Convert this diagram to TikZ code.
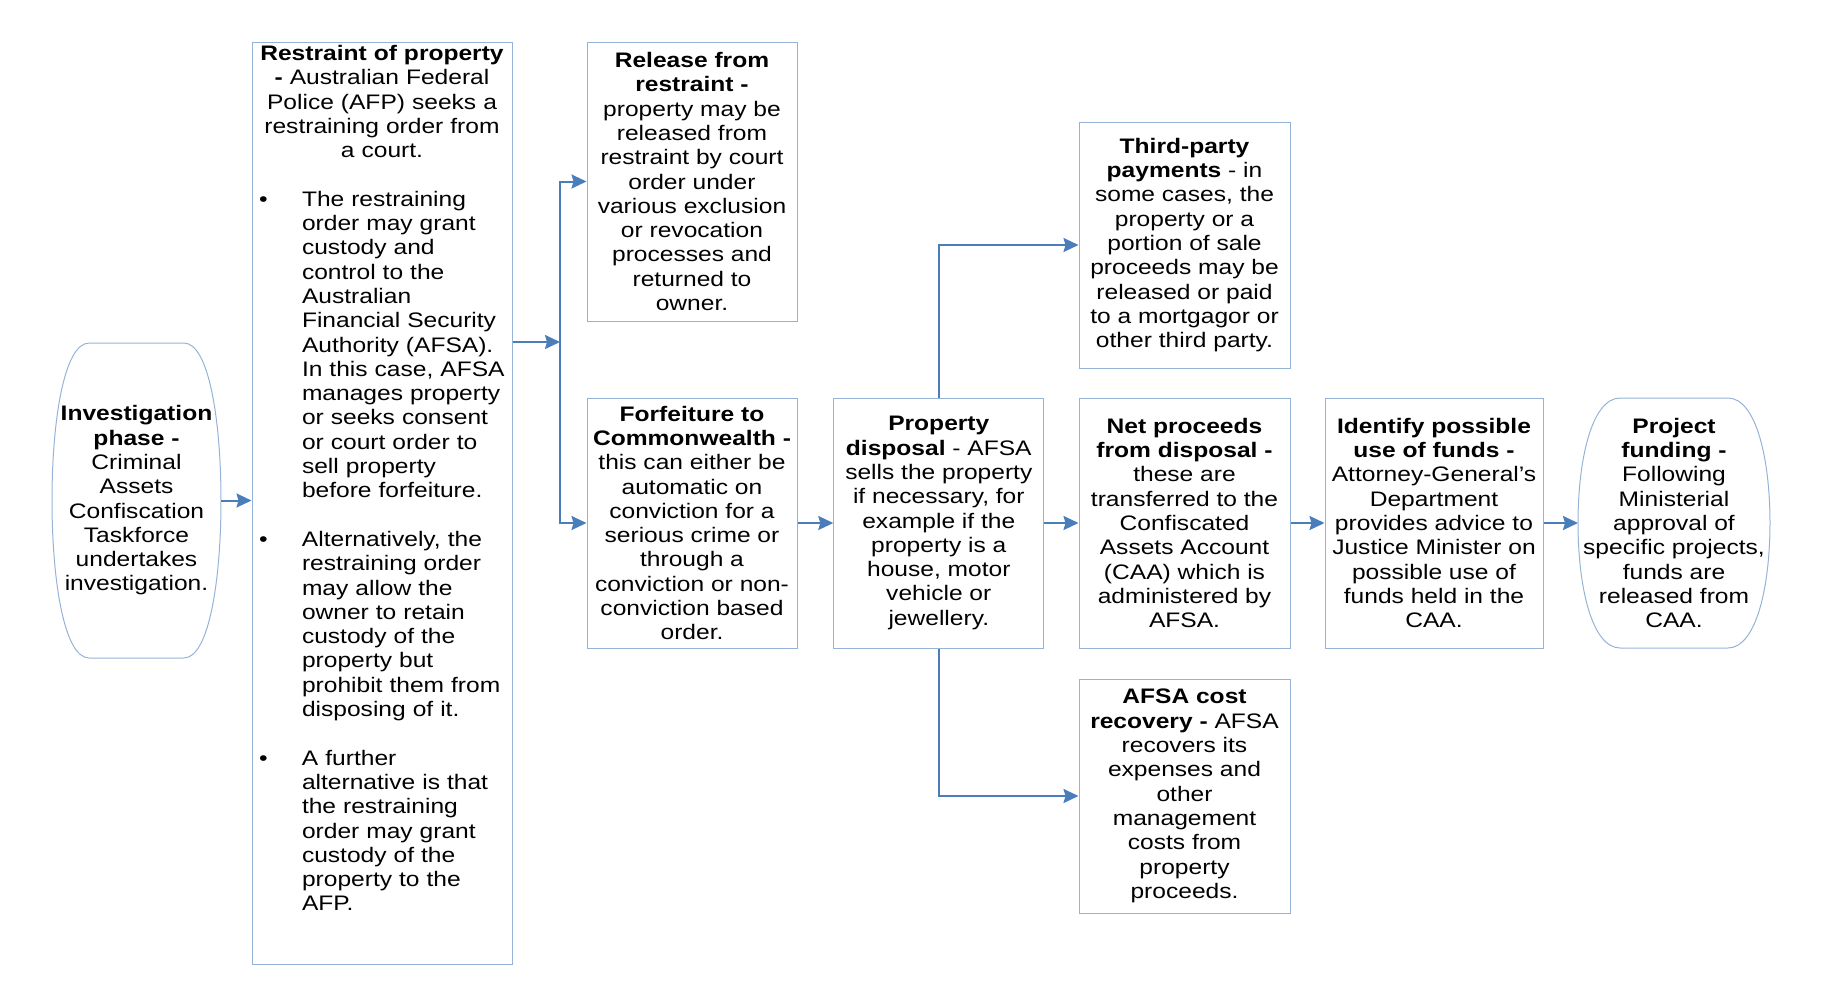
\documentclass[tikz,border=0pt]{standalone}
\usepackage{fontspec}
\setmainfont{Liberation Sans}[FakeStretch=1.17]
\usetikzlibrary{arrows.meta,calc,positioning}

\definecolor{boxblue}{RGB}{149,179,215}
\definecolor{arrowblue}{RGB}{74,126,187}

\newcommand{\bodysize}{\fontsize{10.5}{12.15}\selectfont}
\newcommand{\restrbullet}[1]{\noindent\hspace*{3.5pt}\makebox[21.5pt][l]{\textbullet}\parbox[t]{104pt}{\strut#1\strut}\par}
\newcommand{\termpath}[1]{%
  \draw[boxline] ($(#1.north west)!.22!(#1.north east)$) -- ($(#1.north west)!.78!(#1.north east)$)
    .. controls ($(#1.north west)!.93!(#1.north east)$) and ($(#1.north east)!.5!(#1.east)$) .. (#1.east)
    .. controls ($(#1.south east)!.5!(#1.east)$) and ($(#1.south west)!.93!(#1.south east)$) .. ($(#1.south west)!.78!(#1.south east)$)
    -- ($(#1.south west)!.22!(#1.south east)$)
    .. controls ($(#1.south west)!.07!(#1.south east)$) and ($(#1.south west)!.5!(#1.west)$) .. (#1.west)
    .. controls ($(#1.north west)!.5!(#1.west)$) and ($(#1.north west)!.07!(#1.north east)$) .. cycle;}

\tikzset{every picture/.style={line width=0.75pt}}
\tikzset{
  boxline/.style={draw=boxblue, line width=0.5pt},
  stagebox/.style={boxline, inner sep=0pt, align=center, font=\bodysize, minimum width=105pt, minimum height=125pt},
  termnode/.style={inner sep=0pt, outer sep=0pt, align=center, font=\bodysize},
  flowline/.style={draw=arrowblue, line width=1pt},
  flowarrow/.style={flowline, -{Stealth[length=7.5pt,width=7pt,inset=1pt]}},
}

\begin{document}
\begin{tikzpicture}[x=1pt,y=1pt,yscale=-1,xscale=1]
\useasboundingbox (0,0) rectangle (910.5,503.5);

%Shape: Terminator [id:inv]
\node[termnode, minimum width=84.5pt, minimum height=157.5pt] (inv) at (68.25,250.25)
  {\textbf{Investigation}\\\textbf{phase -}\\Criminal\\Assets\\Confiscation\\Taskforce\\undertakes\\investigation.};
\termpath{inv}

%Shape: Rectangle [id:restr]
\node[stagebox, minimum width=130pt, minimum height=461pt] (restr) at (191,251.5) {};
% Text Node
\node[anchor=north, text width=130pt, inner xsep=0pt, inner ysep=1.5pt, font=\bodysize, align=left] (restrtext) at (restr.north)
  {\setlength{\lineskip}{0pt}%
   {\centering\textbf{Restraint of property}\\\textbf{-} Australian Federal\\Police (AFP) seeks a\\restraining order from\\a court.\par}
   \vspace{\baselineskip}
   \restrbullet{The restraining\\order may grant\\custody and\\control to the\\Australian\\Financial Security\\Authority (AFSA).\\In this case, AFSA\\manages property\\or seeks consent\\or court order to\\sell property\\before forfeiture.}
   \vspace{\baselineskip}
   \restrbullet{Alternatively, the\\restraining order\\may allow the\\owner to retain\\custody of the\\property but\\prohibit them from\\disposing of it.}
   \vspace{\baselineskip}
   \restrbullet{A further\\alternative is that\\the restraining\\order may grant\\custody of the\\property to the\\AFP.}};

%Shape: Rectangle [id:release]
\node[stagebox, minimum height=139.5pt] (release) at (346,90.75)
  {\textbf{Release from}\\\textbf{restraint -}\\property may be\\released from\\restraint by court\\order under\\various exclusion\\or revocation\\processes and\\returned to\\owner.};
%Shape: Rectangle [id:forf]
\node[stagebox] (forf) at (346,261.5)
  {\textbf{Forfeiture to}\\\textbf{Commonwealth -}\\this can either be\\automatic on\\conviction for a\\serious crime or\\through a\\conviction or non-\\conviction based\\order.};
%Shape: Rectangle [id:disposal]
\node[stagebox] (disposal) at (469.4,261.5)
  {\textbf{Property}\\\textbf{disposal} - AFSA\\sells the property\\if necessary, for\\example if the\\property is a\\house, motor\\vehicle or\\jewellery.};
%Shape: Rectangle [id:thirdparty]
\node[stagebox, minimum width=105.5pt, minimum height=123pt] (thirdparty) at (592.25,122.5)
  {\textbf{Third-party}\\\textbf{payments} - in\\some cases, the\\property or a\\portion of sale\\proceeds may be\\released or paid\\to a mortgagor or\\other third party.};
%Shape: Rectangle [id:netproc]
\node[stagebox, minimum width=105.5pt] (netproc) at (592.25,261.5)
  {\textbf{Net proceeds}\\\textbf{from disposal -}\\these are\\transferred to the\\Confiscated\\Assets Account\\(CAA) which is\\administered by\\AFSA.};
%Shape: Rectangle [id:costrec]
\node[stagebox, minimum width=105.5pt, minimum height=117pt] (costrec) at (592.25,398)
  {\textbf{AFSA cost}\\\textbf{recovery -} AFSA\\recovers its\\expenses and\\other\\management\\costs from\\property\\proceeds.};
%Shape: Rectangle [id:funduse]
\node[stagebox, minimum width=109pt] (funduse) at (717,261.5)
  {\textbf{Identify possible}\\\textbf{use of funds -}\\Attorney-General’s\\Department\\provides advice to\\Justice Minister on\\possible use of\\funds held in the\\CAA.};
%Shape: Terminator [id:projfund]
\node[termnode, minimum width=96pt, minimum height=125pt] (projfund) at (837,261.5)
  {\textbf{Project}\\\textbf{funding -}\\Following\\Ministerial\\approval of\\specific projects,\\funds are\\released from\\CAA.};
\termpath{projfund}

%Straight Lines
\coordinate (split) at (280,171);
\draw[flowarrow] (inv.east) -- (inv.east -| restr.west);
\draw[flowarrow] (split -| restr.east) -- (split);
\draw[flowarrow] (split) |- (release.west);
\draw[flowarrow] (split) |- (forf.west);
\draw[flowarrow] (forf) -- (disposal);
\draw[flowarrow] (disposal.north) |- (thirdparty.west);
\draw[flowarrow] (disposal.south) |- (costrec.west);
\draw[flowarrow] (disposal) -- (netproc);
\draw[flowarrow] (netproc) -- (funduse);
\draw[flowarrow] (funduse) -- (projfund);

\end{tikzpicture}
\end{document}
